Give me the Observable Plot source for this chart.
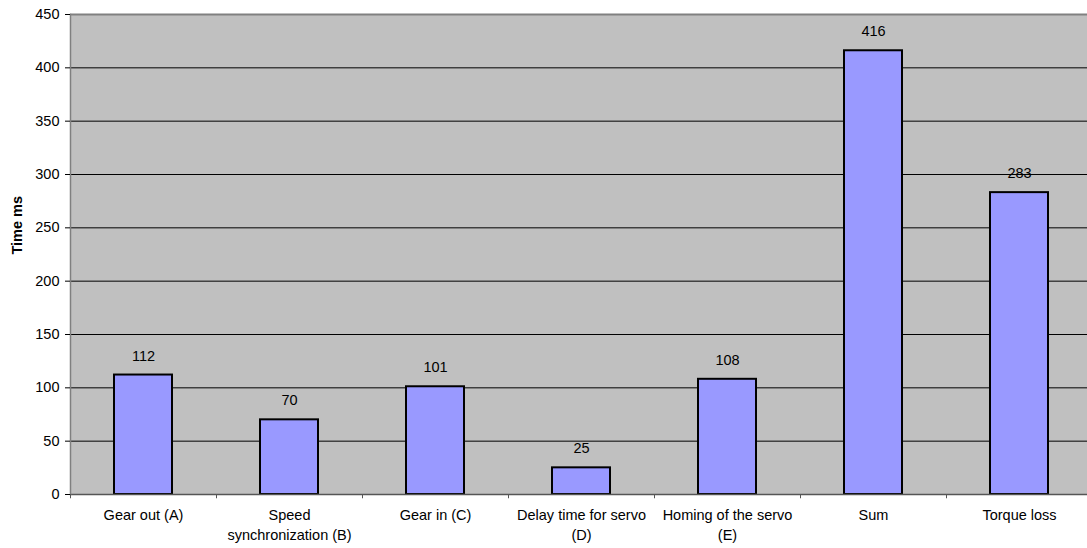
<!DOCTYPE html>
<html>
<head>
<meta charset="utf-8">
<script src="https://cdn.jsdelivr.net/npm/d3@7"></script>
<script src="https://cdn.jsdelivr.net/npm/@observablehq/plot@0.6"></script>
<style>
  html, body { margin: 0; padding: 0; background: #fff; }
  #chart svg { display: block; }
</style>
</head>
<body>
<div id="chart"></div>
<script>
const categories = ["Gear out (A)", "Speed synchronization (B)", "Gear in (C)", "Delay time for servo (D)", "Homing of the servo (E)", "Sum", "Torque loss"];
const tickLabels = ["Gear out (A)", "Speed\nsynchronization (B)", "Gear in (C)", "Delay time for servo\n(D)", "Homing of the servo\n(E)", "Sum", "Torque loss"];
const values = [112, 70, 101, 25, 108, 416, 283];
const yTicks = [0, 50, 100, 150, 200, 250, 300, 350, 400, 450];
const gridValues = [50, 100, 150, 200, 250, 300, 350, 400];
const yLabel = "Time ms";

const data = categories.map((c, i) => ({category: c, value: values[i]}));
const labelOf = new Map(categories.map((c, i) => [c, tickLabels[i]]));

const chart = Plot.plot({
  width: 1087,
  height: 548,
  marginLeft: 70,
  marginRight: -6,
  marginTop: 14,
  marginBottom: 54,
  style: {fontFamily: "Arial, 'Liberation Sans', sans-serif", fontSize: "14.5px", color: "black", background: "white"},
  x: {domain: categories, paddingInner: 0.6, paddingOuter: 0.3, axis: null},
  y: {domain: [0, 450], axis: null},
  marks: [
    Plot.frame({fill: "#c0c0c0", stroke: null}),
    Plot.ruleY(gridValues, {stroke: "black", strokeWidth: 1}),
    Plot.ruleY([450], {stroke: "#808080", strokeWidth: 2}),
    Plot.barY(data, {x: "category", y: "value", fill: "#9999ff", stroke: "black", strokeWidth: 2}),
    Plot.text(data, {x: "category", y: "value", text: d => String(d.value), dy: -19, fontSize: 14.5, fill: "black"}),
    Plot.ruleY([0], {stroke: "#555", strokeWidth: 1.5}),
    Plot.frame({anchor: "left", stroke: "#808080", strokeWidth: 1.5}),
    Plot.axisY({ticks: yTicks, tickSize: 5, tickPadding: 6, fontSize: 14.5, label: null, stroke: "black"}),
    Plot.ruleX(categories, {x: d => d, dx: -73, y1: 0, y2: -4, stroke: "#555"}),
    Plot.axisX({tickSize: 0, tickPadding: 11, fontSize: 14.5, lineHeight: 1.38, tickFormat: d => labelOf.get(d), label: null}),
    Plot.text([yLabel], {frameAnchor: "left", dx: -53, rotate: -90, text: d => d, fontWeight: "bold", fontSize: 14.5, fill: "black"})
  ]
});
document.getElementById("chart").appendChild(chart);
</script>
</body>
</html>
